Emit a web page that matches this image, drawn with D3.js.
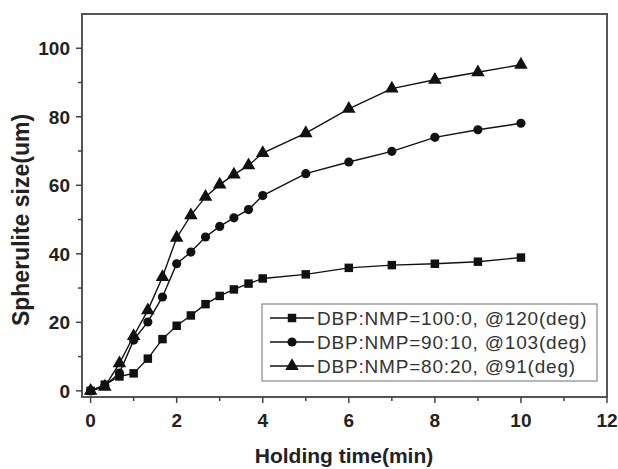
<!DOCTYPE html>
<meta charset="utf-8">
<style>
body { margin: 0; background: #fff; }
text { font-family: Arial, "Liberation Sans", sans-serif; }
.tick-label { font-size: 19px; font-weight: bold; fill: #222; }
.axis-title { font-size: 21px; font-weight: bold; fill: #222; }
.legend text { font-size: 19px; fill: #333; letter-spacing: 0.8px; }
.series { fill: none; stroke: #111; stroke-width: 1.4px; }
</style>
<body>
<script src="https://cdn.jsdelivr.net/npm/d3@7"></script>
<script>

// holding time (min)
var times = [0, 0.33, 0.67, 1, 1.33, 1.67, 2, 2.33, 2.67, 3, 3.33, 3.67, 4, 5, 6, 7, 8, 9, 10];

// spherulite size (um)
var size100 = [0, 1.8, 4.2, 5.1, 9.4, 15.1, 19, 22, 25.3, 27.7, 29.6, 31.3, 32.8, 34, 35.9, 36.7, 37.1, 37.7, 38.9];
var size90  = [0, 1.5, 5.2, 14.8, 20.1, 27.4, 37.1, 40.5, 44.9, 48, 50.5, 52.9, 57, 63.4, 66.8, 69.9, 74, 76.2, 78.1];
var size80  = [0, 1.2, 8, 16, 23.5, 33.2, 44.7, 51.2, 56.6, 60.2, 63.1, 65.8, 69.4, 75.2, 82.3, 88.2, 90.8, 93, 95.2];

var seriesNames = ["DBP:NMP=100:0, @120(deg)", "DBP:NMP=90:10, @103(deg)", "DBP:NMP=80:20, @91(deg)"];
var seriesSymbols = [d3.symbolSquare, d3.symbolCircle, d3.symbolTriangle];
var symbolSizes = [72, 66, 80];

var xTicks = [0, 2, 4, 6, 8, 10, 12];
var yTicks = [0, 20, 40, 60, 80, 100];

var width = 618,
    height = 469;

// plot frame (window.top is reserved, so use other names)
var frameL = 82, frameR = 607, frameT = 14, frameB = 397;

var x = d3.scaleLinear().domain([-0.2, 12]).range([frameL, frameR]);
var y = d3.scaleLinear().domain([-1.8, 110]).range([frameB, frameT]);

var svg = d3.select("body").append("svg")
    .attr("width", width)
    .attr("height", height);

// frame
svg.append("rect")
    .attr("x", frameL)
    .attr("y", frameT)
    .attr("width", frameR - frameL)
    .attr("height", frameB - frameT)
    .attr("fill", "none")
    .attr("stroke", "#555")
    .attr("stroke-width", 2);

// x ticks, major + minor
var xMinor = d3.range(1, 12, 2);
svg.append("g").selectAll("line")
    .data(xTicks.concat(xMinor))
  .enter().append("line")
    .attr("x1", function(d) { return x(d); })
    .attr("x2", function(d) { return x(d); })
    .attr("y1", frameB)
    .attr("y2", function(d) { return frameB + (d % 2 === 0 ? 6 : 4); })
    .attr("stroke", "#444")
    .attr("stroke-width", 1.5);

svg.append("g").selectAll("text")
    .data(xTicks)
  .enter().append("text")
    .attr("class", "tick-label")
    .attr("x", function(d) { return x(d); })
    .attr("y", 427)
    .attr("text-anchor", "middle")
    .text(function(d) { return d; });

// y ticks
var yMinor = d3.range(10, 110, 20);
svg.append("g").selectAll("line")
    .data(yTicks.concat(yMinor))
  .enter().append("line")
    .attr("x1", frameL)
    .attr("x2", function(d) { return frameL - (d % 20 === 0 ? 6 : 4); })
    .attr("y1", function(d) { return y(d); })
    .attr("y2", function(d) { return y(d); })
    .attr("stroke", "#444")
    .attr("stroke-width", 1.5);

svg.append("g").selectAll("text")
    .data(yTicks)
  .enter().append("text")
    .attr("class", "tick-label")
    .attr("x", 70)
    .attr("y", function(d) { return y(d); })
    .attr("dy", "0.36em")
    .attr("text-anchor", "end")
    .text(function(d) { return d; });

// axis titles
svg.append("text")
    .attr("class", "axis-title")
    .attr("x", 344)
    .attr("y", 463)
    .attr("text-anchor", "middle")
    .text("Holding time(min)");

svg.append("text")
    .attr("class", "axis-title")
    .style("font-size", "23px")
    .attr("transform", "translate(29,220) rotate(-90)")
    .attr("text-anchor", "middle")
    .text("Spherulite size(um)");

// series
var data = [size100, size90, size80].map(function(vals, i) {
  return {
    name: seriesNames[i],
    symbol: seriesSymbols[i],
    size: symbolSizes[i],
    points: vals.map(function(v, j) { return {t: times[j], v: v}; })
  };
});

var line = d3.line()
    .x(function(d) { return x(d.t); })
    .y(function(d) { return y(d.v); });

var g = svg.append("g").selectAll("g")
    .data(data)
  .enter().append("g");

g.append("path")
    .attr("class", "series")
    .attr("d", function(d) { return line(d.points); });

g.each(function(s) {
  d3.select(this).selectAll("path.mark")
      .data(s.points)
    .enter().append("path")
      .attr("class", "mark")
      .attr("transform", function(d) { return "translate(" + x(d.t) + "," + y(d.v) + ")"; })
      .attr("d", d3.symbol().type(s.symbol).size(s.size))
      .attr("fill", "#111");
});

// legend
var legend = svg.append("g").attr("class", "legend");

legend.append("rect")
    .attr("x", 262)
    .attr("y", 304)
    .attr("width", 335)
    .attr("height", 77)
    .attr("fill", "#fff")
    .attr("stroke", "#888")
    .attr("stroke-width", 1.2);

var rows = legend.selectAll("g.row")
    .data(data)
  .enter().append("g")
    .attr("class", "row")
    .attr("transform", function(d, i) { return "translate(0," + [318, 342, 366][i] + ")"; });

rows.append("line")
    .attr("x1", 270)
    .attr("x2", 314)
    .attr("stroke", "#111")
    .attr("stroke-width", 1.4);

rows.append("path")
    .attr("transform", "translate(292,0)")
    .attr("d", function(d) { return d3.symbol().type(d.symbol).size(d.size)(); })
    .attr("fill", "#111");

rows.append("text")
    .attr("x", 317)
    .attr("dy", "0.36em")
    .text(function(d) { return d.name; });

</script>
